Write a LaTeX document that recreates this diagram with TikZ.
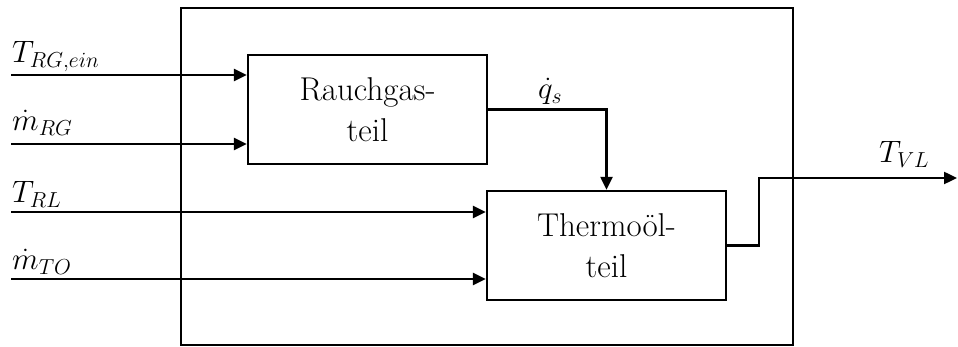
\RequirePackage{fix-cm}
\documentclass[tikz,border=0pt]{standalone}
\usetikzlibrary{arrows.meta}
\begin{document}
\begin{tikzpicture}[x=1pt,y=-1pt,
  line width=2.4pt,
  blk/.style={draw,rectangle,minimum width=239pt,minimum height=109pt,inner sep=0pt,align=center,
    font=\fontsize{33}{41}\selectfont},
  lbl/.style={anchor=base west,inner sep=0pt,font=\fontsize{31}{36}\selectfont},
  arr/.style={-{Triangle[length=13pt,width=12pt]}}
]
\useasboundingbox (0,0) rectangle (958,347);
\draw[line width=2.4pt] (181,8) rectangle (793,345);
\node[blk] (rg) at (367.5,109.5) {Rauchgas-\\teil};
\node[blk] (to) at (606.5,245.5) {Thermoöl-\\teil};
\coordinate (i1) at (11,75);
\coordinate (i2) at (11,144);
\coordinate (i3) at (11,212);
\coordinate (i4) at (11,279);
\coordinate (o1) at (957,178);
\draw[arr] (i1) -- (i1 -| rg.west);
\draw[arr] (i2) -- (i2 -| rg.west);
\draw[arr] (i3) -- (i3 -| to.west);
\draw[arr] (i4) -- (i4 -| to.west);
\draw[arr] (rg.east) -| (to.north);
\draw[arr] (to.east) -- (759,245.5) |- (o1);
\node[lbl] (l1) at (11,63) {$T_{RG,ein}$};
\node[lbl] (l2) at (11,131) {$\dot m_{RG}$};
\node[lbl] (l3) at (11,203) {$T_{RL}$};
\node[lbl] (l4) at (11,270) {$\dot m_{TO}$};
\node[lbl] (l5) at (878,163) {$T_{VL}$};
\node[lbl] (l6) at (537,99) {$\dot q_{s}$};
\end{tikzpicture}
\end{document}
